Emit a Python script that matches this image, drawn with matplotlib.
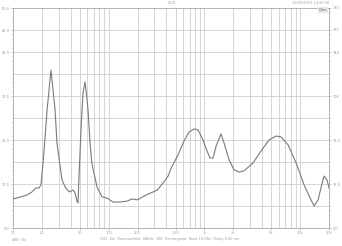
import numpy as np
import matplotlib.pyplot as plt
from matplotlib.ticker import FixedLocator

# impedance curve (Hz, Ohm)
freq = [10, 11.8, 14.0, 15.8, 17.4, 18.7, 19.6, 20.6, 21.4, 22.7, 23.8,
        24.9, 26.2, 27.5, 28.8, 32.5, 35.5, 38.7, 42.4, 44.5, 46.6, 47.8,
        48.9, 51.4, 53.8, 56.5, 58.5, 60.8, 63.8, 66.4, 69.0, 75.5, 85.1,
        96.0, 110.9, 131, 155, 175, 198, 223, 258, 320, 369, 417, 448,
        530, 612, 690, 778, 857, 967, 1064, 1144, 1230, 1322, 1490, 1603,
        1807, 2038, 2300, 2596, 3221, 3902, 4731, 5598, 6312, 7475, 9061,
        10990, 12690, 13970, 15390, 16950, 17790, 19110, 20000]
imp = [6.6, 7.0, 7.5, 8.2, 9.1, 9.1, 9.8, 14.8, 19.3, 26.8, 31.4, 35.9,
       31.4, 26.8, 19.3, 10.9, 9.1, 8.2, 8.6, 8.0, 6.1, 5.7, 11.4, 22.7,
       30.5, 33.2, 30.5, 26.8, 19.3, 15.0, 13.2, 9.3, 7.1, 6.8, 5.9, 5.9,
       6.1, 6.6, 6.4, 7.0, 7.7, 8.6, 10.2, 11.8, 13.6, 16.6, 19.8, 21.8,
       22.5, 22.3, 20.0, 17.5, 15.9, 15.9, 18.6, 21.4, 19.3, 15.5, 13.2,
       12.7, 13.0, 14.8, 17.5, 20.0, 20.9, 20.7, 18.9, 14.8, 9.8, 6.8,
       5.0, 6.4, 10.2, 11.8, 10.9, 9.1]

xmin, xmax = 10, 20000
ymin, ymax = 0, 50
xlabels = ['10', '20', '50', '100', '200', '500', '1k', '2k', '5k', '10k', '20k']
xlabel_pos = [10, 20, 50, 100, 200, 500, 1000, 2000, 5000, 10000, 20000]
ylabel_pos = [0, 10, 20, 30, 40, 45, 50]
rlabels = ['0.0', '36.0', '72.0', '108', '144', '162', '180']

gridc = '#cfcfcf'
txtc = '#9a9a9a'

fig = plt.figure(figsize=(3.42, 2.46), dpi=100)
ax = fig.add_axes([13 / 342, 18 / 246, 316 / 342, 220 / 246])
ax.set_xscale('log')
ax.set_xlim(xmin, xmax)
ax.set_ylim(ymin, ymax)

vlines = []
for dec in [10, 100, 1000, 10000]:
    for k in range(1, 10):
        v = dec * k
        if xmin < v < xmax:
            vlines.append(v)
for v in vlines:
    ax.axvline(v, color=gridc, lw=0.6, zorder=1)
for h in np.arange(5, 50, 5):
    ax.axhline(h, color=gridc, lw=0.6, zorder=1)

ax.plot(freq, imp, color='#7a7a7a', lw=0.8, zorder=3)

ax.xaxis.set_major_locator(FixedLocator(xlabel_pos))
ax.xaxis.set_minor_locator(FixedLocator([]))
ax.set_xticklabels(xlabels)
ax.yaxis.set_major_locator(FixedLocator(ylabel_pos))
ax.yaxis.set_minor_locator(FixedLocator(np.arange(1, 50, 1)))
ax.set_yticklabels(['%.1f' % v for v in ylabel_pos])
ax.tick_params(axis='both', which='both', labelsize=2.5, colors=txtc,
               length=1.5, width=0.4, pad=1)
ax.tick_params(axis='y', which='minor', length=1)
for s in ax.spines.values():
    s.set_color('#a8a8a8')
    s.set_linewidth(0.6)

ax2 = ax.twinx()
ax2.set_ylim(ymin, ymax)
ax2.yaxis.set_major_locator(FixedLocator(ylabel_pos))
ax2.yaxis.set_minor_locator(FixedLocator(np.arange(1, 50, 1)))
ax2.set_yticklabels(rlabels)
ax2.tick_params(axis='y', which='both', labelsize=2.5, colors=txtc,
                length=1.5, width=0.4, pad=1)
ax2.tick_params(axis='y', which='minor', length=1)
for s in ax2.spines.values():
    s.set_visible(False)

fig.text(172 / 342, 1 - 3 / 246, 'CLIO', ha='center', va='center',
         fontsize=2.5, color=txtc)
fig.text(329 / 342, 1 - 3.5 / 246, '10/03/2015 14:22:38', ha='right',
         va='center', fontsize=2.5, color=txtc)
fig.text(327 / 342, 1 - 10 / 246, 'Ohm', ha='right', va='center',
         fontsize=2.5, color='#666666',
         bbox=dict(boxstyle='square,pad=0.2', fc='#e8e8e8', ec='none'))
fig.text(12 / 342, 1 - 240 / 246, 'dBV  Hz', ha='left', va='center',
         fontsize=2.5, color=txtc)
fig.text(170 / 342, 1 - 239 / 246,
         'CH1  Zin  Unsmoothed  48kHz  16K  Rectangular  Start 10.0Hz  Delay 0.00 ms',
         ha='center', va='center', fontsize=2.5, color=txtc)

fig.savefig('out.png', dpi=100)
